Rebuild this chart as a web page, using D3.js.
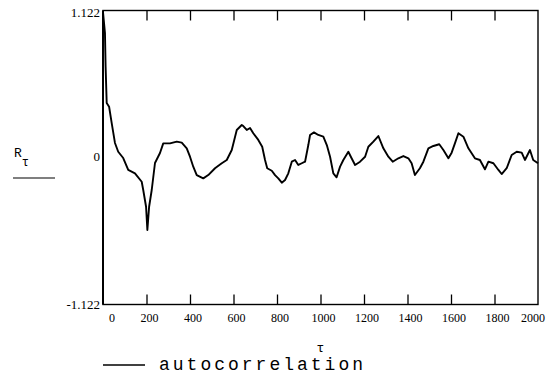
<!DOCTYPE html>
<html>
<head>
<meta charset="utf-8">
<script src="https://cdn.jsdelivr.net/npm/d3@7"></script>
<style>
  html, body { margin: 0; padding: 0; background: #fff; }
  svg { display: block; }
</style>
</head>
<body>
<svg id="chart" width="549" height="379"></svg>
<script>
// ---- data ----
const tau = [0, 9, 12, 17, 28, 40, 55, 70, 93, 116, 147, 178, 185, 198, 204, 212, 224, 239, 262, 277, 308, 339, 362, 385, 400, 415, 431, 461, 484, 515, 546, 569, 592, 615, 638, 645, 661, 676, 691, 714, 732, 745, 755, 776, 791, 806, 822, 837, 852, 868, 883, 898, 914, 929, 944, 952, 970, 990, 1013, 1029, 1044, 1059, 1074, 1090, 1105, 1128, 1143, 1159, 1182, 1205, 1220, 1243, 1266, 1289, 1312, 1332, 1358, 1381, 1404, 1419, 1434, 1457, 1473, 1496, 1519, 1546, 1565, 1588, 1603, 1618, 1634, 1657, 1680, 1710, 1733, 1756, 1772, 1795, 1818, 1833, 1856, 1879, 1902, 1925, 1940, 1963, 1978, 2000];
const rtau = [1.11, 0.95, 0.693, 0.416, 0.388, 0.263, 0.111, 0.044, -0.004, -0.095, -0.121, -0.185, -0.248, -0.376, -0.553, -0.376, -0.248, -0.042, 0.034, 0.108, 0.108, 0.121, 0.113, 0.07, 0.006, -0.07, -0.134, -0.159, -0.134, -0.082, -0.044, -0.019, 0.057, 0.21, 0.248, 0.24, 0.21, 0.225, 0.185, 0.134, 0.082, -0.019, -0.082, -0.101, -0.134, -0.159, -0.192, -0.172, -0.121, -0.032, -0.019, -0.057, -0.044, -0.032, 0.095, 0.172, 0.192, 0.172, 0.159, 0.095, 0.006, -0.121, -0.151, -0.07, -0.019, 0.044, -0.006, -0.057, -0.032, 0.006, 0.082, 0.121, 0.164, 0.07, 0.006, -0.032, -0.006, 0.011, -0.006, -0.044, -0.134, -0.082, -0.032, 0.07, 0.088, 0.101, 0.057, -0.006, 0.037, 0.108, 0.185, 0.159, 0.07, -0.006, -0.019, -0.09, -0.032, -0.044, -0.095, -0.126, -0.082, 0.019, 0.044, 0.037, -0.019, 0.057, -0.019, -0.044];
const xTicks = [200, 400, 600, 800, 1000, 1200, 1400, 1600, 1800];
const xTickLabels = [0, 200, 400, 600, 800, 1000, 1200, 1400, 1600, 1800, 2000];
const yTickLabels = [1.122, 0, -1.122];
const legendLabel = "autocorrelation";

// ---- layout ----
const svg = d3.select("#chart");
const L = 103, R = 538, T = 10.5, B = 304.5;
const x = d3.scaleLinear().domain([0, 2000]).range([L, R]);
const y = d3.scaleLinear().domain([-1.122, 1.122]).range([B, T]);

// curve
const line = d3.line().x(d => x(d[0])).y(d => y(d[1]));
svg.append("path")
  .datum(tau.map((t, i) => [t, rtau[i]]))
  .attr("d", line)
  .attr("fill", "none")
  .attr("stroke", "#000")
  .attr("stroke-width", 1.9)
  .attr("stroke-linejoin", "round");

// frame
svg.append("rect")
  .attr("x", L).attr("y", T)
  .attr("width", R - L).attr("height", B - T)
  .attr("fill", "none").attr("stroke", "#000").attr("stroke-width", 1.4);
svg.append("line").attr("x1", L).attr("x2", L).attr("y1", T).attr("y2", B)
  .attr("stroke", "#000").attr("stroke-width", 2);

// ticks bottom (up) and top (down)
const bottomAxis = d3.axisBottom(x).tickValues(xTicks).tickSize(-10).tickFormat("");
const gb = svg.append("g").attr("transform", `translate(0,${B})`).call(bottomAxis);
gb.select(".domain").remove();
gb.selectAll("line").attr("stroke", "#000").attr("stroke-width", 1.3);
const topAxis = d3.axisTop(x).tickValues(xTicks).tickSize(-10).tickFormat("");
const gt = svg.append("g").attr("transform", `translate(0,${T})`).call(topAxis);
gt.select(".domain").remove();
gt.selectAll("line").attr("stroke", "#000").attr("stroke-width", 1.3);

// x tick labels
svg.append("g").selectAll("text").data(xTickLabels).join("text")
  .attr("x", d => x(d) + (d === 0 ? 9 : d === 2000 ? -5 : 3))
  .attr("y", 322)
  .attr("text-anchor", "middle")
  .attr("font-family", "Liberation Serif, Times New Roman, serif")
  .attr("font-size", 12)
  .text(d => d);

// y tick labels
svg.append("g").selectAll("text").data(yTickLabels).join("text")
  .attr("x", 100)
  .attr("y", d => d === 1.122 ? 17 : d === 0 ? 161 : 309)
  .attr("text-anchor", "end")
  .attr("font-family", "Liberation Serif, Times New Roman, serif")
  .attr("font-size", 13)
  .text(d => d === 0 ? "0" : (d < 0 ? "-" : "") + Math.abs(d).toFixed(3));

// y axis title R_tau
const yt = svg.append("text")
  .attr("x", 14).attr("y", 157)
  .attr("font-family", "Liberation Mono, Courier New, monospace")
  .attr("font-size", 13);
yt.append("tspan").text("R");
yt.append("tspan").attr("dx", 0).attr("dy", 9).attr("font-size", 12).text("τ");
svg.append("line").attr("x1", 13).attr("x2", 55).attr("y1", 178).attr("y2", 178)
  .attr("stroke", "#000").attr("stroke-width", 1.2);

// x axis title
svg.append("text")
  .attr("x", (L + R) / 2).attr("y", 352)
  .attr("text-anchor", "middle")
  .attr("font-family", "Liberation Mono, Courier New, monospace")
  .attr("font-size", 13)
  .text("τ");

// legend
svg.append("line").attr("x1", 103).attr("x2", 145).attr("y1", 365).attr("y2", 365)
  .attr("stroke", "#000").attr("stroke-width", 1.5);
svg.append("text")
  .attr("x", 159).attr("y", 370)
  .attr("font-family", "Liberation Mono, Courier New, monospace")
  .attr("font-size", 18)
  .attr("letter-spacing", 3)
  .text(legendLabel);
</script>
</body>
</html>
